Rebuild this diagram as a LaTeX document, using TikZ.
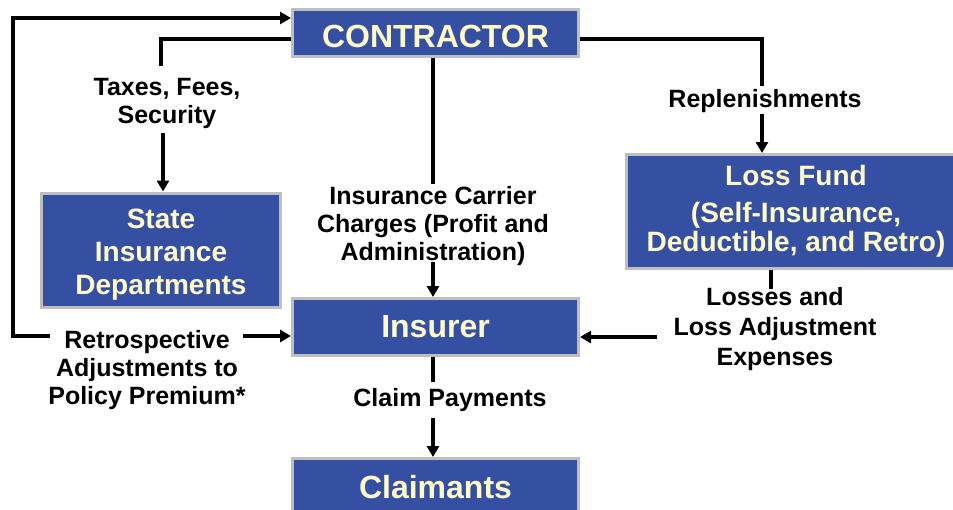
\documentclass[tikz,border=0pt]{standalone}
\usepackage{fontspec}
\setmainfont{Liberation Sans}
\usetikzlibrary{arrows.meta}
\definecolor{boxblue}{HTML}{3550A2}
\definecolor{boxtext}{HTML}{FFFAC8}
\definecolor{boxedge}{HTML}{BEBEBE}
% text nudged up or down while the box keeps its own extent
\newcommand{\nudge}[2]{\raisebox{#1}[\height][\depth]{#2}}
\newcommand{\lineset}[2]{\nudge{#1}{\begin{tabular}{@{}c@{}}#2\end{tabular}}}
\begin{document}
\begin{tikzpicture}[x=1pt,y=-1pt,
  blk/.style={draw=boxedge, line width=3pt, fill=boxblue, text=boxtext,
    align=center, inner sep=0pt},
  lbl/.style={font=\fontsize{25}{28}\selectfont\bfseries, align=center, inner sep=0pt},
  plain/.style={line width=3.8pt},
  link/.style={line width=3.8pt, -{Triangle[length=11pt,width=12pt]}}]
\useasboundingbox (0,0) rectangle (953,509);
\clip (0,0) rectangle (953,509);

% boxes
\node[blk, minimum width=286pt, minimum height=47pt,
  font=\fontsize{32}{36}\selectfont\bfseries] (contractor) at (435.5,33) {\nudge{-3pt}{CONTRACTOR}};
\node[blk, minimum width=239pt, minimum height=114pt,
  font=\fontsize{28}{33}\selectfont\bfseries] (state) at (161,250) {\lineset{-5pt}{State\\Insurance\\Departments}};
\node[blk, minimum width=340pt, minimum height=114pt,
  font=\fontsize{28}{29}\selectfont\bfseries] (fund) at (796,211.5) {Loss Fund\\[8pt](Self-Insurance,\\Deductible, and Retro)};
\node[blk, minimum width=286pt, minimum height=57pt,
  font=\fontsize{32}{36}\selectfont\bfseries] (insurer) at (435.5,327) {Insurer};
\node[blk, minimum width=286pt, minimum height=64pt,
  font=\fontsize{32}{36}\selectfont\bfseries] (claimants) at (435.5,490.5) {\nudge{3pt}{Claimants}};

% labels
\node[lbl] (taxes) at (167,103) {Taxes, Fees,\\Security};
\node[lbl] (carrier) at (433,226.5) {Insurance Carrier\\Charges (Profit and\\Administration)};
\node[lbl] (replen) at (765,101) {Replenishments};
\node[lbl] (retro) at (147,370) {Retrospective\\Adjustments to\\Policy Premium*};
\node[lbl, font=\fontsize{25}{30}\selectfont\bfseries] (losses) at (775,329) {Losses and\\Loss Adjustment\\Expenses};
\node[lbl] (claims) at (450,400.5) {Claim Payments};

% free ends of the connectors around the labels
\coordinate (taxtop) at (161,66);
\coordinate (taxbot) at (163,133);
\coordinate (cartop) at (433,184);
\coordinate (carbot) at (433,262);
\coordinate (reptop) at (762,86);
\coordinate (repbot) at (762,114);
\coordinate (retl) at (50,336);
\coordinate (retr) at (243,336);
\coordinate (loop) at (13,18);
\coordinate (lostop) at (771,289);
\coordinate (losr) at (657,337);
\coordinate (clmtop) at (433,382);
\coordinate (clmbot) at (433,418);

% connectors
\draw[plain] ([yshift=-6pt]contractor.west) -| (taxtop);
\draw[link] (taxbot) -- (taxbot |- state.north);
\draw[plain] (cartop |- contractor.south) -- (cartop);
\draw[link] (carbot) -- (carbot |- insurer.north);
\draw[plain] ([yshift=-6pt]contractor.east) -| (reptop);
\draw[link] (repbot) -- (repbot |- fund.north);
\draw[link] (retl) -| (loop) -- (loop -| contractor.west);
\draw[link] (retr) -- (retr -| insurer.west);
\draw[plain] (lostop |- fund.south) -- (lostop);
\draw[link] (losr) -- (losr -| insurer.east);
\draw[plain] (clmtop |- insurer.south) -- (clmtop);
\draw[link] (clmbot) -- (clmbot |- claimants.north);
\end{tikzpicture}
\end{document}
